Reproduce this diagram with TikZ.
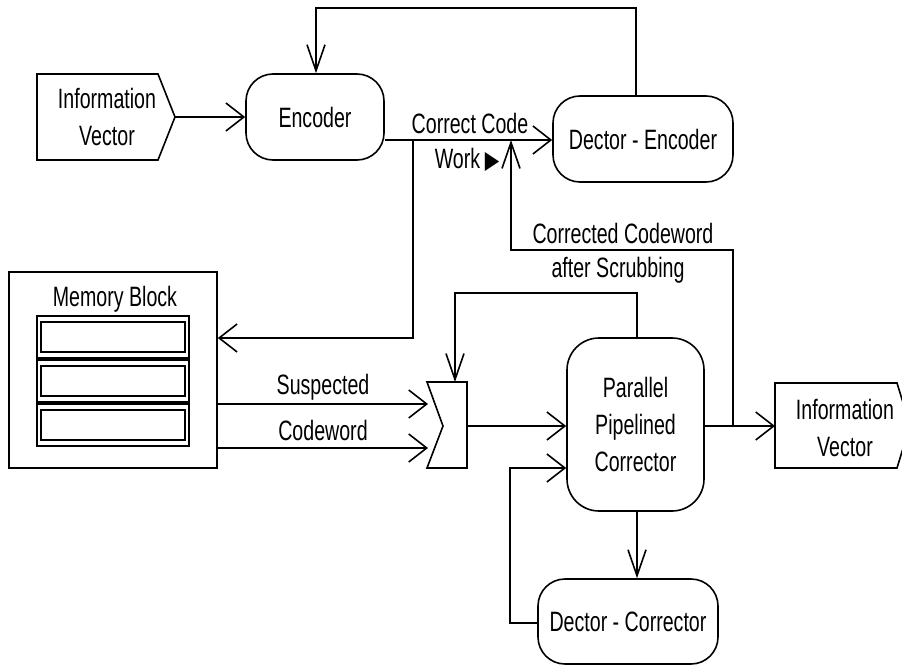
\documentclass[tikz,border=0pt]{standalone}
\usepackage{fontspec}
\setmainfont[FakeStretch=0.7]{Liberation Sans}
\newfontfamily\symfont[FakeStretch=0.75]{DejaVu Sans}
\usetikzlibrary{arrows.meta}
\begin{document}
\begin{tikzpicture}[x=1pt,y=-1pt,
  every node/.style={font=\fontsize{28}{37}\selectfont, align=center, inner sep=0pt},
  ln/.style={line width=1.6pt},
  box/.style={draw, ln, rounded corners=27pt},
  ha/.style={ln, -{Straight Barb[length=18pt,width=28pt,line width=1.6pt]}},
  va/.style={ln, -{Straight Barb[length=26pt,width=18pt,line width=1.6pt]}}]
\useasboundingbox (0,0) rectangle (902,666);

% input information vector
\draw[ln] (37,74) -- (158,74) -- (175,117) -- (158,160) -- (37,160) -- cycle;
\node (ivin) at (107,117) {Information\\Vector};
\coordinate (ivtip) at (175,117);

% encoder and decoder-encoder
\node[box, minimum width=138pt, minimum height=86pt] (enc) at (315,117) {Encoder};
\node[box, minimum width=180pt, minimum height=86pt] (de) at (643,139) {Dector - Encoder};

% memory block
\node[draw, ln, minimum width=208pt, minimum height=196pt] (mem) at (113,370) {};
\node (memlbl) at (115,299) {Memory Block};
\draw[ln] (37,316) rectangle (189,446);
\foreach \y in {316,360,404}{
  \draw[ln] (37,\y) rectangle (189,\y+42);
  \draw[line width=2pt] (41,\y+6) rectangle (185,\y+36);
}

% merging stage
\draw[ln] (427,382) -- (467,382) -- (467,468) -- (427,468) -- (443,426) -- cycle;
\coordinate (mgE) at (467,426);
\coordinate (mgN) at (455,382);
\coordinate (s1) at (428,404);
\coordinate (s2) at (428,448);

% corrector blocks
\node[box, rounded corners=32pt, minimum width=137pt, minimum height=173pt] (cor) at (635.5,424.5) {Parallel\\Pipelined\\Corrector};
\node[box, minimum width=180pt, minimum height=85pt] (dc) at (628,621.5) {Dector - Corrector};

% output information vector
\draw[ln] (775,383) -- (897,383) -- (910,425.5) -- (897,468) -- (775,468) -- cycle;
\node (ivout) at (845,428) {Information\\Vector};
\coordinate (ivoutW) at (775,426);

% junction points
\coordinate (jA) at (413,140);
\coordinate (jB) at (733,426);
\coordinate (jC) at (511,140);
\coordinate (c2) at (567,468);

% connectors
\draw[ha] (ivtip) -- (ivtip -| enc.west);
\draw[ha] ([yshift=-23pt]enc.east) -- (de.west |- jC);
\draw[va] ([xshift=-7pt]de.north) -- ++(0,-87) -| ([xshift=1pt]enc.north);
\draw[ha] (jA) -- ++(0,198) -- ([yshift=32pt]mem.east);
\draw[ha] (mem.east |- s1) -- (s1);
\draw[ha] (mem.east |- s2) -- (s2);
\draw[ha] (mgE) -- (cor.west |- mgE);
\draw[va] ([xshift=1.5pt]cor.north) -- ++(0,-44) -| (mgN);
\draw[ha] (cor.east |- mgE) -- (ivoutW);
\draw[va] (jB) -- ++(0,-176) -| (jC);
\draw[va] ([xshift=1.5pt]cor.south) -- ([xshift=1.5pt]cor.south |- dc.north);
\draw[ha] ([yshift=-1.5pt]dc.west) -- ++(-27,0) |- (cor.west |- c2);

% labels
\node (lcc) at (470,123) {Correct Code};
\node (lwk) at (467,160) {Work\,{\symfont\fontsize{25}{25}\selectfont ▶}};
\node (lcw1) at (623,233) {Corrected Codeword};
\node (lcw2) at (618,270) {after Scrubbing};
\node (lsu) at (323,387) {Suspected};
\node (lco) at (323,430) {Codeword};
\end{tikzpicture}
\end{document}
